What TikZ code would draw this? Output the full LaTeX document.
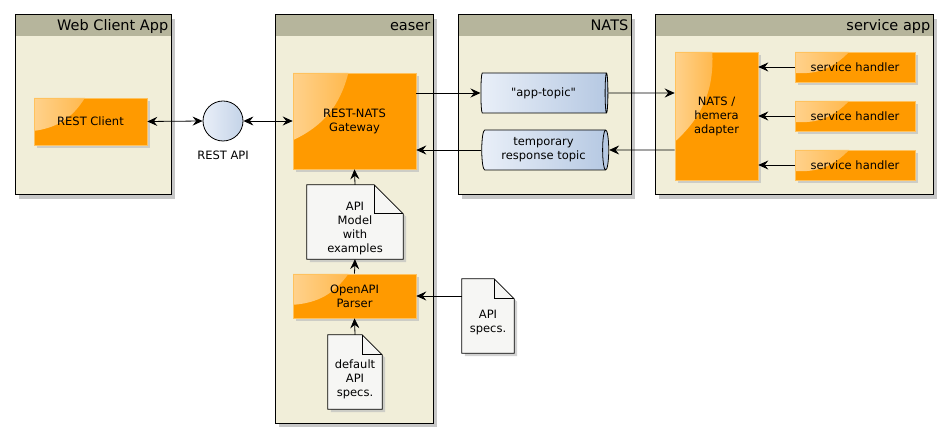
\documentclass[tikz,border=0pt]{standalone}
\usepackage{fontspec}
\setmainfont{DejaVu Sans}
\usetikzlibrary{positioning,shapes.geometric,arrows.meta,shadows,backgrounds,calc}
\definecolor{framefill}{HTML}{F1EED9}
\definecolor{framehead}{HTML}{B6B59C}
\definecolor{nodeorange}{HTML}{FF9A00}
\definecolor{nodeedge}{HTML}{FFC25E}
\definecolor{docfill}{HTML}{F6F6F4}
\definecolor{topicleft}{HTML}{E9EFF8}
\definecolor{topicright}{HTML}{B5C8E2}
\newcommand{\diagframe}[6]{\draw[framebox] (#1,#2) rectangle (#3,#4);
					\fill[framehead] (#1,#2) rectangle (#3,#2+21);
					\draw[line width=1pt] (#1,#2) rectangle (#3,#4);
					\node[frametitle, anchor=base east] (#5) at (#3-2.5,#2+16) {#6};}
\newcommand{\docpage}[2]{\begin{scope}[on background layer]
					\draw[docline] (#1.north west) -- ([xshift=-#2pt]#1.north east) -- ([yshift=-#2pt]#1.north east) -- (#1.south east) -- (#1.south west) -- cycle;
					\draw[foldline] ([xshift=-#2pt]#1.north east) |- ([yshift=-#2pt]#1.north east);
					\end{scope}}
\tikzset{
	framebox/.style={fill=framefill, line width=1pt, drop shadow={shadow xshift=4pt, shadow yshift=-4pt, fill=black!22, opacity=1}},
	frametitle/.style={font=\fontsize{14.5}{17}\selectfont, inner sep=0pt},
	comp/.style={rectangle, fill=nodeorange, draw=nodeedge, line width=.6pt, align=center, inner sep=0pt,
		drop shadow={shadow xshift=3pt, shadow yshift=-3pt, fill=black!25, opacity=.7},
		path picture={\shade[left color=white!55!nodeorange, right color=nodeorange]
			(path picture bounding box.north west) -- ($(path picture bounding box.north west)!.45!(path picture bounding box.north east)$)
			to[bend left=25] ($(path picture bounding box.north west)!.7!(path picture bounding box.south west)$) -- cycle;}},
	topic/.style={cylinder, aspect=.25, draw, line width=.8pt, left color=topicleft, right color=topicright, align=center, inner sep=0pt, minimum height=127pt, minimum width=40pt},
	iface/.style={circle, draw, line width=.8pt, left color=topicleft, right color=topicright!80!white, minimum size=40pt, inner sep=0pt},
	docnote/.style={rectangle, inner sep=0pt},
	doctext/.style={align=center, inner sep=0pt, yshift=-7pt},
	docline/.style={draw, line width=.8pt, fill=docfill, drop shadow={shadow xshift=3pt, shadow yshift=-3pt, fill=black!25, opacity=.7}},
	foldline/.style={draw, line width=.8pt},
	link/.style={-{Stealth[length=10pt, width=9pt, inset=3.5pt]}, line width=.8pt},
	twolink/.style={{Stealth[length=10pt, width=9pt, inset=3.5pt]}-{Stealth[length=10pt, width=9pt, inset=3.5pt]}, line width=.8pt},
	every node/.append style={font=\fontsize{11.5}{14}\selectfont}
}

\begin{document}
\begin{tikzpicture}[x=1pt, y=-1pt]
	\useasboundingbox (0,0) rectangle (952,443);

	\begin{scope}[on background layer]
		\diagframe{15}{15}{171}{195}{webtitle}{Web Client App}
		\diagframe{275}{15}{433}{423}{easertitle}{easer}
		\diagframe{458}{15}{631}{195}{natstitle}{NATS}
		\diagframe{655}{15}{933}{195}{svctitle}{service app}
	\end{scope}

	\node[comp, minimum width=113pt, minimum height=47pt] (restclient) at (90.5,121.5) {REST Client};
	\node[iface] (restapi) at (223,121) {};
	\node[below=9pt of restapi, inner sep=0pt] (restapilbl) {REST API};
	\node[comp, minimum width=123pt, minimum height=96pt] (gateway) at (354.5,121) {REST-NATS\\Gateway};

	\node[docnote, minimum width=96pt, minimum height=74pt, label={[doctext, name=apimodeltxt]center:{API\\Model\\with\\examples}}] (apimodel) at (355,222) {};
	\docpage{apimodel}{29}
	\node[comp, minimum width=123pt, minimum height=44pt] (parser) at (354.5,296) {OpenAPI\\Parser};
	\node[docnote, minimum width=54pt, minimum height=74pt, label={[doctext, name=defspecstxt]center:{default\\API\\specs.}}] (defspecs) at (355,372) {};
	\docpage{defspecs}{20}
	\node[docnote, minimum width=52pt, minimum height=74pt, label={[doctext, name=apispecstxt]center:{API\\specs.}}] (apispecs) at (488,316) {};
	\docpage{apispecs}{20}

	\node[topic] (apptopic) at (543.5,93) {\textquotedbl app-topic\textquotedbl};
	\node[topic] (resptopic) at (543.5,150) {temporary\\response topic};

	\node[comp, minimum width=83pt, minimum height=128pt] (adapter) at (716.5,116) {NATS /\\hemera\\adapter};
	\foreach \n/\y in {1/67,2/116,3/165}
		\node[comp, minimum width=120pt, minimum height=30pt] (handler\n) at (855,\y) {service handler};

	\draw[twolink] (restclient.east) -- (restapi.west);
	\draw[twolink] (restapi.east) -- (gateway.west);
	\draw[link] (gateway.east |- apptopic) -- (apptopic.west);
	\draw[link] (apptopic.east) -- (adapter.west |- apptopic);
	\draw[link] (adapter.west |- resptopic) -- (resptopic.east);
	\draw[link] (resptopic.west) -- (gateway.east |- resptopic);
	\foreach \n in {1,2,3}
		\draw[link] (handler\n.west) -- (adapter.east |- handler\n);
	\draw[link] (apimodel.north) -- (gateway.south);
	\draw[link] (parser.north) -- (apimodel.south);
	\draw[link] (defspecs.north) -- (parser.south);
	\draw[link] (apispecs.west |- parser) -- (parser.east);

\end{tikzpicture}
\end{document}
